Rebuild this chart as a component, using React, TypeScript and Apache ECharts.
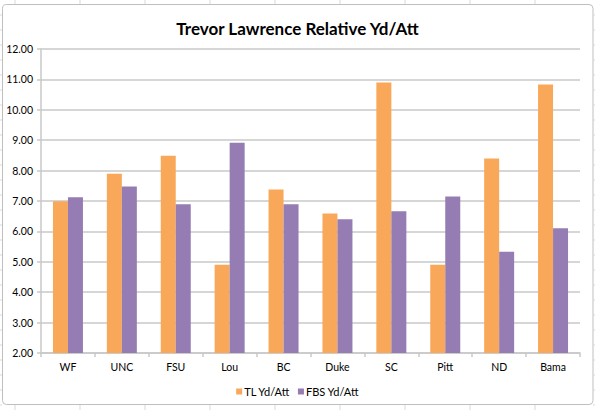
import { useEffect, useRef } from 'react'
import * as echarts from 'echarts'

const teams = ['WF', 'UNC', 'FSU', 'Lou', 'BC', 'Duke', 'SC', 'Pitt', 'ND', 'Bama']
const tlYdAtt = [6.99, 7.9, 8.49, 4.9, 7.38, 6.59, 10.9, 4.9, 8.4, 10.83]
const fbsYdAtt = [7.12, 7.48, 6.89, 8.92, 6.89, 6.4, 6.66, 7.15, 5.33, 6.1]
const yTicks = { min: 2, max: 12, step: 1 }

const FONT = 'Lato, "Open Sans", sans-serif'
const ORANGE = '#F9A85A'
const PURPLE = '#957DB3'
const GRID = '#C8C8C8'

// faint spreadsheet cells peeking out around the chart frame
function sheetLines() {
  const els: any[] = []
  for (let x = 15; x < 595; x += 65) {
    els.push({ type: 'line', shape: { x1: x, y1: 0, x2: x, y2: 4 }, style: { stroke: '#D9D9D9', lineWidth: 1 } })
    els.push({ type: 'line', shape: { x1: x, y1: 405, x2: x, y2: 410 }, style: { stroke: '#D9D9D9', lineWidth: 1 } })
  }
  for (let y = 15; y < 410; y += 15) {
    els.push({ type: 'line', shape: { x1: 0, y1: y, x2: 2, y2: y }, style: { stroke: '#D9D9D9', lineWidth: 1 } })
    els.push({ type: 'line', shape: { x1: 593, y1: y, x2: 595, y2: y }, style: { stroke: '#D9D9D9', lineWidth: 1 } })
  }
  return els
}

function App() {
  const chartRef = useRef<HTMLDivElement>(null)

  useEffect(() => {
    document.body.style.margin = '0'
    if (!chartRef.current) return
    const chart = echarts.init(chartRef.current, undefined, { renderer: 'svg' })

    const option: echarts.EChartsOption = {
      animation: false,
      backgroundColor: '#fff',
      textStyle: { fontFamily: FONT },
      graphic: [
        ...sheetLines(),
        {
          type: 'rect',
          z: -1,
          shape: { x: 2.5, y: 4.5, width: 590.5, height: 400, r: 4 },
          style: { fill: '#fff', stroke: '#BFBFBF', lineWidth: 1 },
        },
      ],
      title: {
        text: 'Trevor Lawrence Relative Yd/Att',
        left: 'center',
        top: 15,
        textStyle: { fontFamily: FONT, fontSize: 17, fontWeight: 'bold', color: '#000' },
      },
      legend: {
        top: 381,
        left: 'center',
        icon: 'rect',
        itemWidth: 6,
        itemHeight: 6,
        itemGap: 8,
        textStyle: { fontFamily: FONT, fontSize: 11, color: '#000', padding: [0, 0, 0, -3] },
      },
      grid: { left: 41, right: 15, top: 49, bottom: 57 },
      xAxis: {
        type: 'category',
        data: teams,
        axisLine: { lineStyle: { color: GRID, width: 1.5 } },
        axisTick: { show: true, length: 4, lineStyle: { color: GRID, width: 1.5 } },
        axisLabel: { color: '#000', fontSize: 10.5, margin: 8, fontFamily: FONT },
      },
      yAxis: {
        type: 'value',
        min: yTicks.min,
        max: yTicks.max,
        interval: yTicks.step,
        axisLine: { show: true, lineStyle: { color: GRID, width: 1.5 } },
        axisTick: { show: true, length: 4, lineStyle: { color: GRID, width: 1.5 } },
        splitLine: { lineStyle: { color: GRID, width: 1.5 } },
        axisLabel: {
          color: '#000',
          fontSize: 10.5,
          margin: 8,
          fontFamily: FONT,
          formatter: (v: number) => v.toFixed(2),
        },
      },
      series: [
        {
          name: 'TL Yd/Att',
          type: 'bar',
          data: tlYdAtt,
          barWidth: 15,
          barGap: '0%',
          itemStyle: { color: ORANGE },
        },
        {
          name: 'FBS Yd/Att',
          type: 'bar',
          data: fbsYdAtt,
          barWidth: 15,
          barGap: '0%',
          itemStyle: { color: PURPLE },
        },
      ],
    }

    chart.setOption(option)
    return () => {
      chart.dispose()
    }
  }, [])

  return <div ref={chartRef} style={{ width: 595, height: 410 }} />
}

export default App
